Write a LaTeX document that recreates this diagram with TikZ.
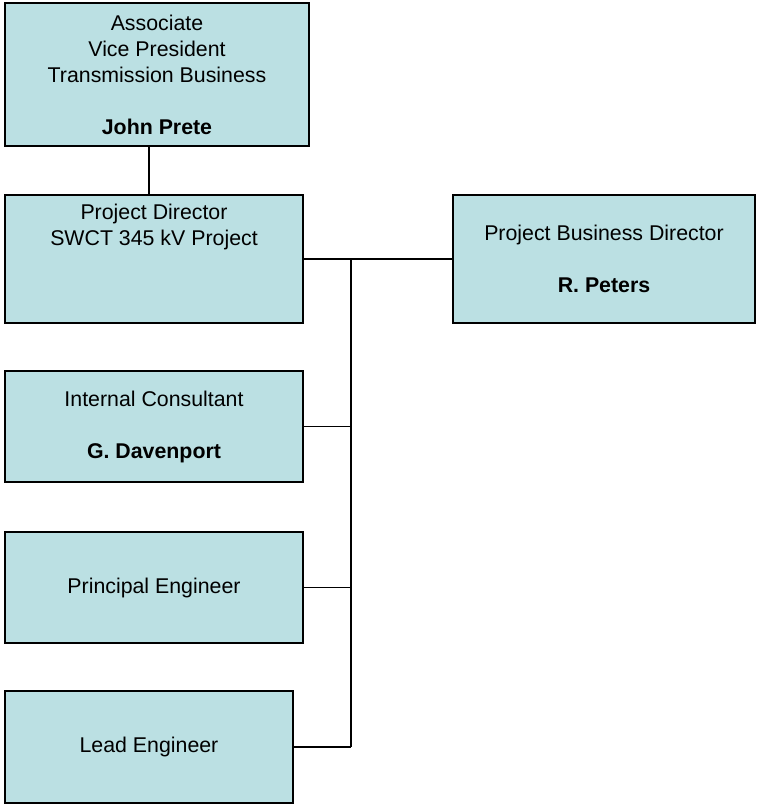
\documentclass[tikz,border=0pt]{standalone}
\usepackage{fontspec}
\setmainfont{Liberation Sans}
\usepackage{tikz}
\definecolor{boxblue}{RGB}{187,224,227}

\begin{document}
\begin{tikzpicture}[x = .75pt, y = -.75pt, auto = center,
        box/.style = {draw, line width=1.8pt, fill=boxblue, inner sep=0pt, align=center},
        wire/.style = {line width=1.4pt},
        every node/.style = {font=\fontsize{16}{19.5}\selectfont}]
        \useasboundingbox (0,0) rectangle (759,804);
        % boxes (sizes in pt, positions in px)
        \node[box, minimum width=228pt, minimum height=107.25pt] (vp) at (157,74.5)
                {Associate\\Vice President\\Transmission Business\\[19.5pt]\textbf{John Prete}};
        \node[box, minimum width=223.5pt, minimum height=96pt] (pd) at (154,259) {};
        \node[align=center] (pdtext) at (154,226.5) {Project Director\\SWCT 345 kV Project};
        \node[box, minimum width=226.5pt, minimum height=96pt] (pbd) at (604,259)
                {Project Business Director\\[19.5pt]\textbf{R. Peters}};
        \node[box, minimum width=223.5pt, minimum height=83.25pt] (ic) at (154,426.5)
                {Internal Consultant\\[19.5pt]\textbf{G. Davenport}};
        \node[box, minimum width=223.5pt, minimum height=83.25pt] (pe) at (154,587.5) {Principal Engineer};
        \node[box, minimum width=216pt, minimum height=84pt] (le) at (149,747) {Lead Engineer};
        % connectors
        \coordinate (bus) at (351,259);
        \draw[wire] ([xshift=-6pt]vp.south) -- ([xshift=-6pt]vp.south |- pd.north);
        \draw[wire] (pd.east) -- (pbd.west);
        \draw[wire] (bus) -- (bus |- le.east);
        \draw[wire] (ic.east) -- (ic.east -| bus);
        \draw[wire] (pe.east) -- (pe.east -| bus);
        \draw[wire] (le.east) -- (le.east -| bus);
      \end{tikzpicture}
\end{document}
